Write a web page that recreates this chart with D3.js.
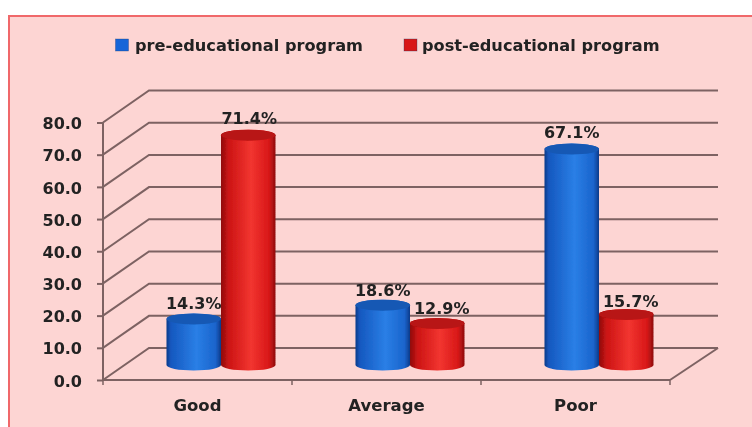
<!DOCTYPE html>
<html><head><meta charset="utf-8">
<script src="https://cdn.jsdelivr.net/npm/d3@7"></script>
<style>html,body{margin:0;padding:0;background:#fff}svg{display:block}</style></head>
<body><script>
const categories = ["Good", "Average", "Poor"];
const seriesNames = ["pre-educational program", "post-educational program"];
const preValues = [14.3, 18.6, 67.1];
const postValues = [71.4, 12.9, 15.7];
const yTicks = [0, 10, 20, 30, 40, 50, 60, 70, 80];

const W = 752, H = 427;
const svg = d3.select("body").append("svg").attr("width", W).attr("height", H);
const FONT = "'DejaVu Sans',sans-serif";
const defs = svg.append("defs");
defs.append("filter").attr("id", "soft").attr("x", "-5%").attr("y", "-5%").attr("width", "110%").attr("height", "110%")
  .append("feGaussianBlur").attr("stdDeviation", 0.65);
function grad(id, stops) {
  const g = defs.append("linearGradient").attr("id", id);
  stops.forEach(s => g.append("stop").attr("offset", s[0]).attr("stop-color", s[1]));
}
grad("gBlue", [[0, "#0c3a8a"], [0.08, "#1558bf"], [0.55, "#2a7fe6"], [0.9, "#1a64cc"], [1, "#0c3a8a"]]);
grad("gRed", [[0, "#8e0d0d"], [0.14, "#cc1414"], [0.55, "#f23530"], [0.88, "#d81818"], [1, "#8e0d0d"]]);
const colors = {
  fill: ["url(#gBlue)", "url(#gRed)"],
  top: ["#1458b4", "#b81212"],
  key: ["#1565d8", "#d81818"]
};

svg.append("rect").attr("x", 9).attr("y", 16).attr("width", W).attr("height", H).attr("fill", "#fdd5d3")
  .attr("stroke", "#f0686a").attr("stroke-width", 2);

const root = svg.append("g").attr("filter", "url(#soft)");

const x = d3.scaleBand().domain(categories).range([103, 670]);
const y = d3.scaleLinear().domain([0, 80]).range([380, 122.5]);
const backDX = 46, backDY = 32, backEnd = 718;
const gridColor = "#7d6262";

const grid = root.append("g").attr("fill", "none").attr("stroke", gridColor);
yTicks.forEach(t => {
  grid.append("path").attr("stroke-width", 2)
    .attr("d", `M103,${y(t)}L${103 + backDX},${y(t) - backDY}L${backEnd},${y(t) - backDY}`);
});
grid.append("path").attr("stroke-width", 2)
  .attr("d", `M${x.range()[1]},${y(0)}L${backEnd},${y(0) - backDY}`);
grid.append("path").attr("stroke-width", 2)
  .attr("d", `M${x.range()[0]},${y(80)}L${x.range()[0]},${y(0)}L${x.range()[1]},${y(0)}`);

const axisL = d3.axisLeft(y).tickValues(yTicks).tickFormat(d3.format(".1f")).tickSize(6).tickPadding(15);
const gy = root.append("g").attr("transform", "translate(103,0)").call(axisL);
gy.select(".domain").remove();
gy.selectAll("line").attr("stroke", gridColor).attr("stroke-width", 2);
gy.selectAll("text").attr("font-family", FONT).attr("font-weight", 700).attr("font-size", 16).attr("fill", "#222")
  .attr("transform", "translate(0,1)");

const ticks = root.append("g").attr("stroke", gridColor).attr("stroke-width", 1.5);
x.domain().concat(["end"]).forEach(c => {
  const px = c === "end" ? x.range()[1] : x(c);
  ticks.append("line").attr("x1", px).attr("x2", px).attr("y1", y(0)).attr("y2", y(0) + 5);
});
categories.forEach(c => {
  root.append("text").attr("x", x(c) + x.bandwidth() / 2).attr("y", 411)
    .attr("text-anchor", "middle").attr("font-family", FONT).attr("font-weight", 700)
    .attr("font-size", 16.5).attr("fill", "#222").text(c);
});

const midDX = 23.5, midDY = 15, barW = 54.5, ry = 5.5;
function barCx(cat, s) {
  return x(cat) + x.bandwidth() / 2 + midDX + (s === 0 ? -barW / 2 : barW / 2);
}
function drawBar(cat, val, s) {
  const cx = barCx(cat, s);
  const xl = cx - barW / 2, xr = cx + barW / 2, rx = barW / 2;
  const base = y(0) - midDY, top = y(val) - midDY;
  const g = root.append("g");
  g.append("path")
    .attr("d", `M${xl},${top}L${xl},${base}A${rx},${ry} 0 0 0 ${xr},${base}L${xr},${top}A${rx},${ry} 0 0 0 ${xl},${top}Z`)
    .attr("fill", colors.fill[s]);
  g.append("ellipse").attr("cx", cx).attr("cy", top).attr("rx", rx).attr("ry", ry).attr("fill", colors.top[s]);
}
categories.forEach((c, i) => {
  drawBar(c, preValues[i], 0);
  drawBar(c, postValues[i], 1);
});

const labelStyle = t => t.attr("text-anchor", "middle").attr("font-family", FONT).attr("font-weight", 700)
  .attr("font-size", 16).attr("fill", "#222");
categories.forEach((c, i) => {
  [preValues[i], postValues[i]].forEach((v, s) => {
    const nudge = s === 1 && i > 0 ? 4.5 : (s === 1 ? 1 : 0);
    const lift = s === 1 && i === 2 ? 7 : (v < 20 ? 9.5 : 11);
    root.append("text").attr("x", barCx(c, s) + nudge).attr("y", y(v) - midDY - lift)
      .call(labelStyle).text(d3.format(".1f")(v) + "%");
  });
});

const legendX = [115.5, 404], textX = [135, 422];
seriesNames.forEach((n, i) => {
  root.append("rect").attr("x", legendX[i]).attr("y", 39).attr("width", 13).attr("height", 12)
    .attr("fill", colors.key[i]).attr("stroke", "#10306a").attr("stroke-opacity", 0.5).attr("stroke-width", 0.6);
  root.append("text").attr("x", textX[i]).attr("y", 50.5).attr("font-family", FONT).attr("font-weight", 700)
    .attr("font-size", 16.2).attr("fill", "#222").text(n);
});
</script></body></html>
